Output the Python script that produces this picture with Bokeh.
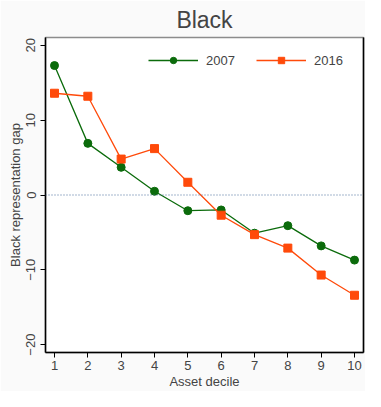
from bokeh.plotting import figure
from bokeh.models import Range1d, FixedTicker, Span, Legend, LegendItem, LinearAxis
from bokeh.embed import file_html
from bokeh.resources import INLINE

deciles = [1, 2, 3, 4, 5, 6, 7, 8, 9, 10]
gap_2007 = [17.3, 6.9, 3.7, 0.5, -2.1, -2.0, -5.1, -4.1, -6.8, -8.7]
gap_2016 = [13.6, 13.2, 4.8, 6.2, 1.7, -2.7, -5.3, -7.1, -10.7, -13.4]
y_ticks = [-20, -10, 0, 10, 20]
x_ticks = deciles

FONT = "Liberation Sans"
GREEN = "#0b6b0b"
ORANGE = "#ff4a0a"

p = figure(width=365, height=391, output_backend="svg", toolbar_location=None,
           x_range=Range1d(0.73, 10.27), y_range=Range1d(-21.05, 21.05),
           min_border_left=45, min_border_right=2, min_border_top=36, min_border_bottom=36)

p.title.text = "Black"
p.title.text_font = FONT
p.title.text_font_size = "23px"
p.title.text_font_style = "normal"
p.title.align = "center"
p.title.offset = -15
p.title.standoff = 9

p.background_fill_color = "white"
p.border_fill_color = "#fafafa"
p.outline_line_color = "#8c8c8c"
p.outline_line_width = 1.5
p.grid.visible = False

zero = Span(location=0, dimension="width", line_color="#4a6d9a", line_dash="1 2", line_width=1.2)
p.add_layout(zero)

l1 = p.line(deciles, gap_2007, line_color=GREEN, line_width=1.3)
s1 = p.scatter(deciles, gap_2007, marker="circle", size=8, fill_color=GREEN, line_color=GREEN)
l2 = p.line(deciles, gap_2016, line_color=ORANGE, line_width=1.3)
s2 = p.scatter(deciles, gap_2016, marker="square", size=8, fill_color=ORANGE, line_color=ORANGE)

for ax in (p.xaxis[0], p.yaxis[0]):
    ax.axis_line_color = "black"
    ax.axis_line_width = 1.5
    ax.major_tick_line_color = "black"
    ax.major_tick_out = 5
    ax.major_tick_in = 0
    ax.minor_tick_line_color = None
    ax.major_label_text_font = FONT
    ax.major_label_text_font_size = "13px"
    ax.axis_label_text_font = FONT
    ax.axis_label_text_font_size = "13px"
    ax.axis_label_text_font_style = "normal"

p.xaxis.ticker = FixedTicker(ticks=x_ticks)
p.yaxis.ticker = FixedTicker(ticks=y_ticks)
p.xaxis.axis_label = "Asset decile"
p.yaxis.axis_label = "Black representation gap"
p.xaxis.major_label_standoff = 3
p.xaxis.axis_label_standoff = 1
p.yaxis.major_label_orientation = "vertical"
p.yaxis.major_label_standoff = 5
p.yaxis.axis_label_standoff = 1

right = LinearAxis(ticker=FixedTicker(ticks=[]), axis_line_color="black", axis_line_width=1.5,
                   major_label_text_font_size="0px", major_tick_line_color=None,
                   minor_tick_line_color=None)
p.add_layout(right, "right")

legend = Legend(items=[LegendItem(label="2007", renderers=[l1, s1]),
                       LegendItem(label="2016", renderers=[l2, s2])],
                orientation="horizontal", location="top_right",
                border_line_color=None, background_fill_alpha=0,
                glyph_width=50, glyph_height=16, label_standoff=8, label_width=34,
                spacing=16, padding=0, margin=15,
                label_text_font=FONT, label_text_font_size="13px")
p.add_layout(legend)

open("out.html", "w").write(file_html(p, INLINE))
